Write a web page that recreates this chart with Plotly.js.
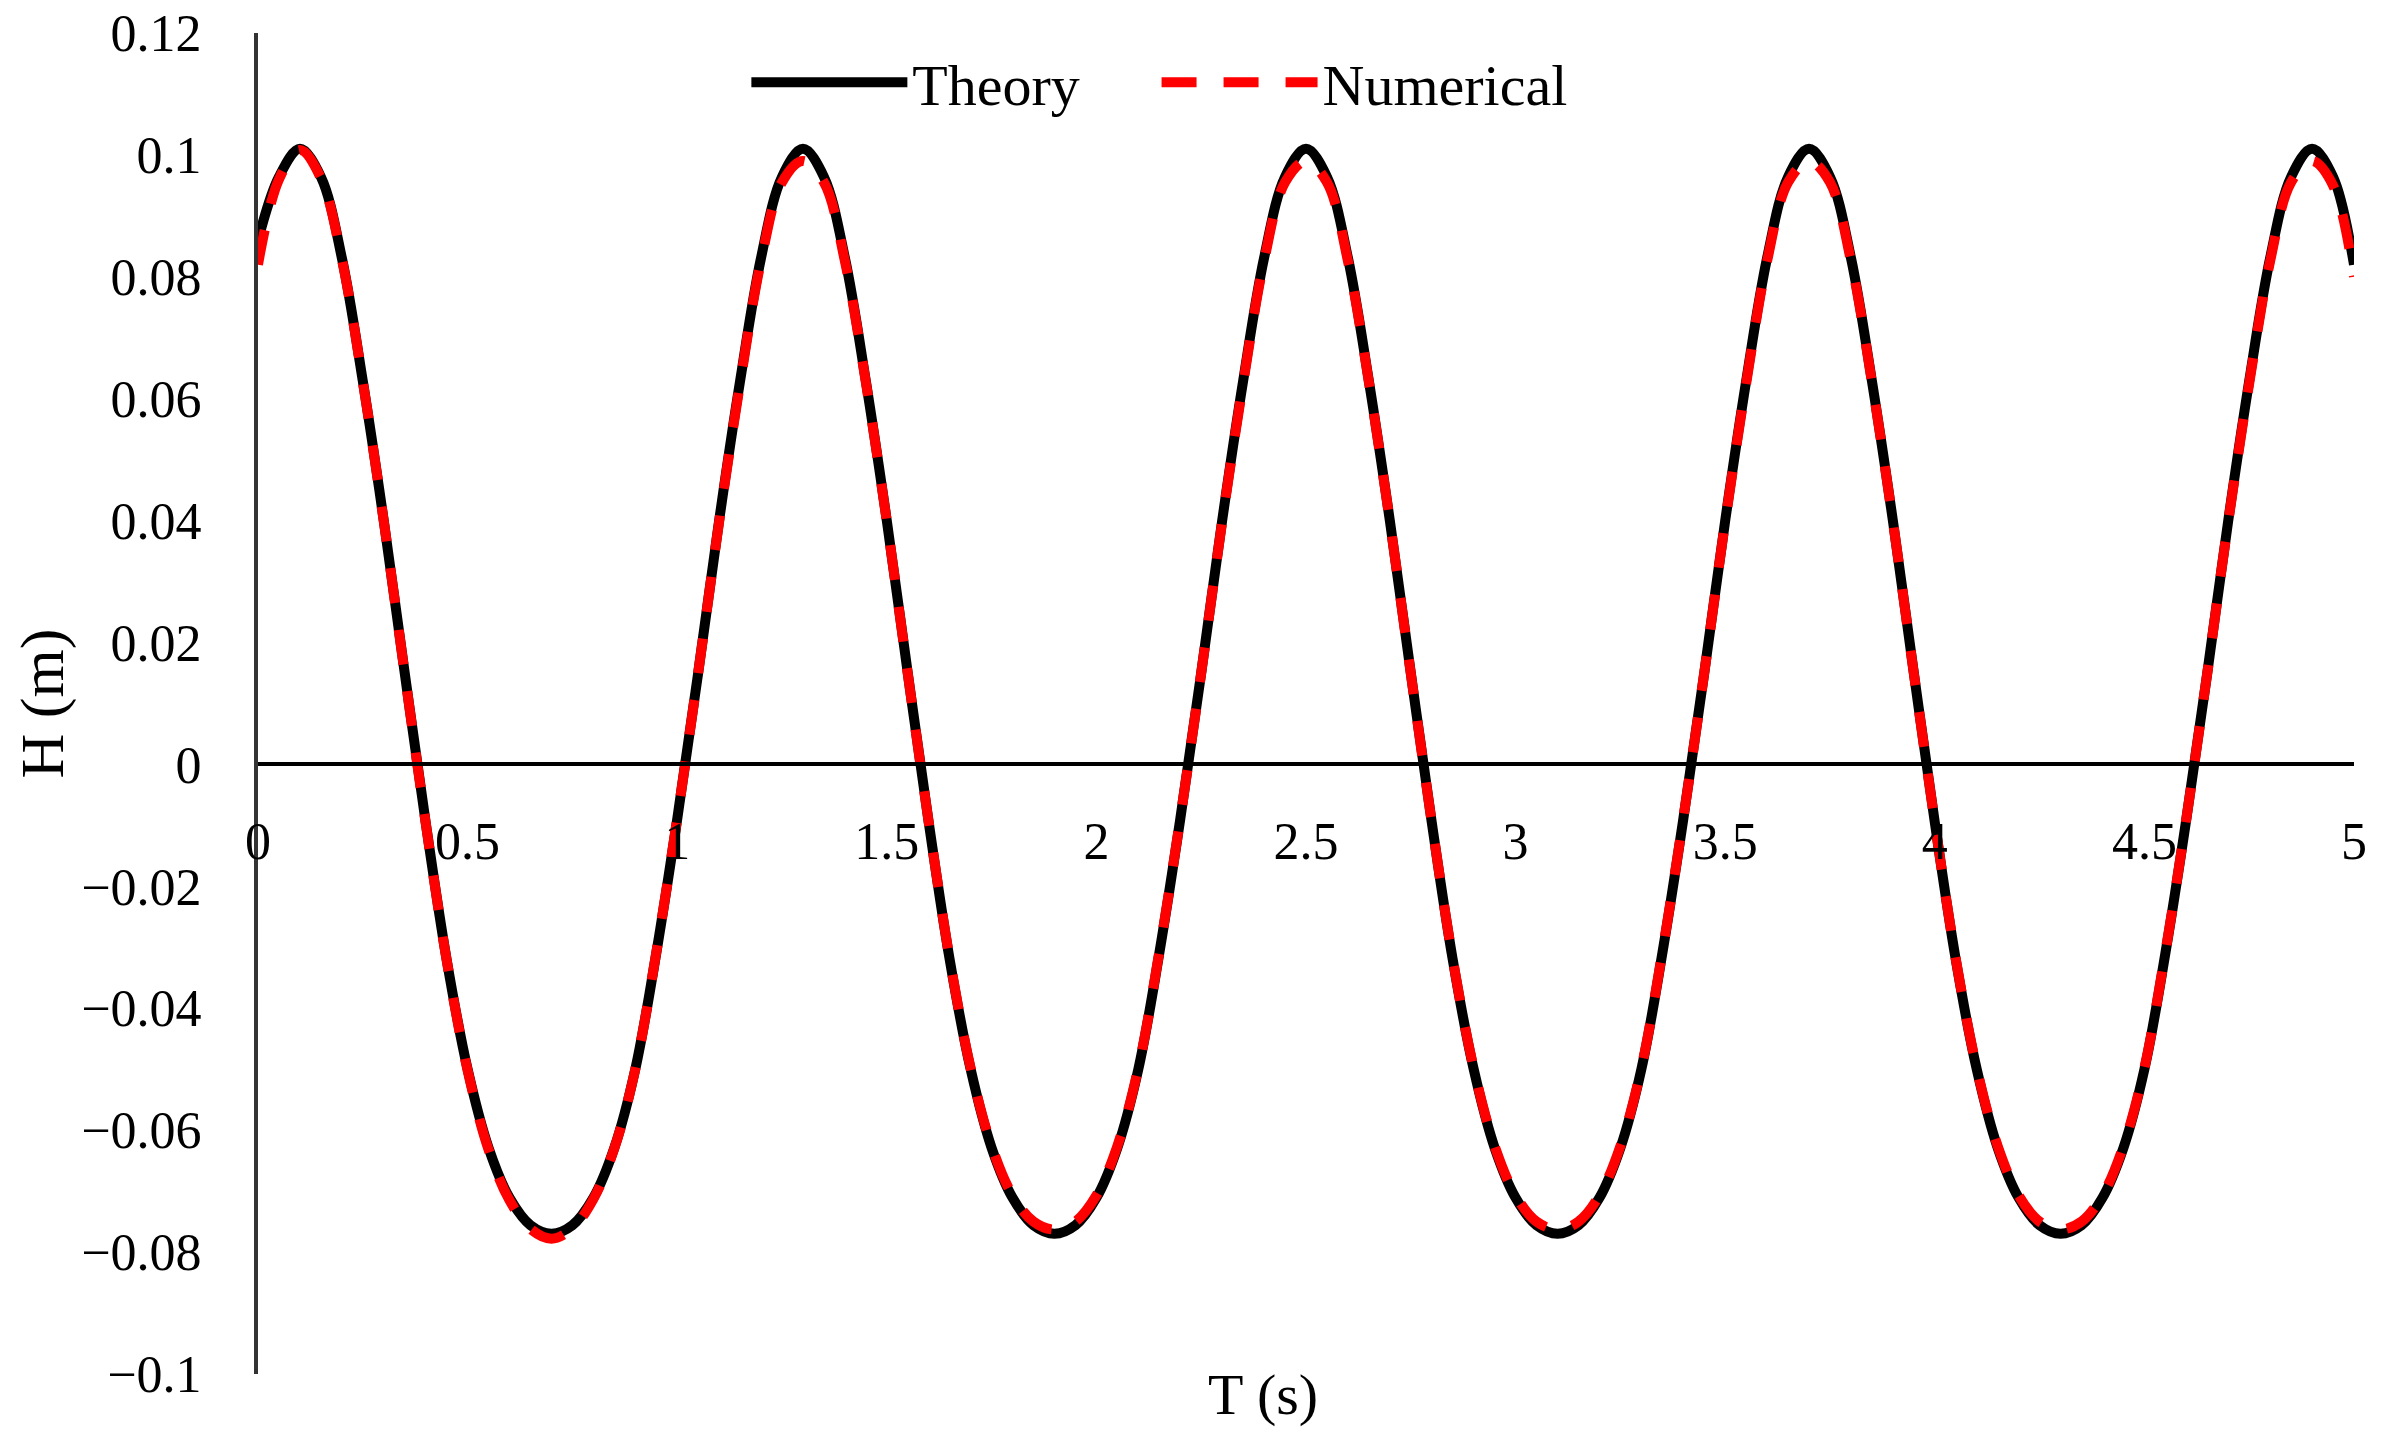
<!DOCTYPE html>
<html>
<head>
<meta charset="utf-8">
<script src="https://cdn.plot.ly/plotly-3.0.1.min.js"></script>
<style>html,body{margin:0;padding:0;background:#fff;}#chart{width:2381px;height:1443px;}</style>
</head>
<body>
<div id="chart"></div>
<script>
// Time (s)
const timeS = [
  0.00, 0.05, 0.10, 0.15, 0.20, 0.25, 0.30, 0.35, 0.40, 0.45,
  0.50, 0.55, 0.60, 0.65, 0.70, 0.75, 0.80, 0.85, 0.90, 0.95,
  1.00, 1.05, 1.10, 1.15, 1.20, 1.25, 1.30, 1.35, 1.40, 1.45,
  1.50, 1.55, 1.60, 1.65, 1.70, 1.75, 1.80, 1.85, 1.90, 1.95,
  2.00, 2.05, 2.10, 2.15, 2.20, 2.25, 2.30, 2.35, 2.40, 2.45,
  2.50, 2.55, 2.60, 2.65, 2.70, 2.75, 2.80, 2.85, 2.90, 2.95,
  3.00, 3.05, 3.10, 3.15, 3.20, 3.25, 3.30, 3.35, 3.40, 3.45,
  3.50, 3.55, 3.60, 3.65, 3.70, 3.75, 3.80, 3.85, 3.90, 3.95,
  4.00, 4.05, 4.10, 4.15, 4.20, 4.25, 4.30, 4.35, 4.40, 4.45,
  4.50, 4.55, 4.60, 4.65, 4.70, 4.75, 4.80, 4.85, 4.90, 4.95,
  5.00
];

// Theory H (m)
const theoryH = [
  0.0860, 0.0964,
  0.1010, 0.0964, 0.0831, 0.0629, 0.0400, 0.0150, -0.0095, -0.0320, -0.0500, -0.0629, -0.0711, -0.0756,
  -0.0770, -0.0756, -0.0711, -0.0629, -0.0500, -0.0310, -0.0090, 0.0150, 0.0400, 0.0629, 0.0831, 0.0964,
  0.1010, 0.0964, 0.0831, 0.0629, 0.0400, 0.0150, -0.0095, -0.0320, -0.0500, -0.0629, -0.0711, -0.0756,
  -0.0770, -0.0756, -0.0711, -0.0629, -0.0500, -0.0310, -0.0090, 0.0150, 0.0400, 0.0629, 0.0831, 0.0964,
  0.1010, 0.0964, 0.0831, 0.0629, 0.0400, 0.0150, -0.0095, -0.0320, -0.0500, -0.0629, -0.0711, -0.0756,
  -0.0770, -0.0756, -0.0711, -0.0629, -0.0500, -0.0310, -0.0090, 0.0150, 0.0400, 0.0629, 0.0831, 0.0964,
  0.1010, 0.0964, 0.0831, 0.0629, 0.0400, 0.0150, -0.0095, -0.0320, -0.0500, -0.0629, -0.0711, -0.0756,
  -0.0770, -0.0756, -0.0711, -0.0629, -0.0500, -0.0310, -0.0090, 0.0150, 0.0400, 0.0629, 0.0831, 0.0964,
  0.1010, 0.0964, 0.0820
];

// Numerical H (m)
const numericalH = [
  0.0820, 0.0960,
  0.1008, 0.0962, 0.0829, 0.0628, 0.0399, 0.0149, -0.0096, -0.0321, -0.0502, -0.0632, -0.0715, -0.0762,
  -0.0778, -0.0761, -0.0713, -0.0630, -0.0500, -0.0309, -0.0089, 0.0150, 0.0398, 0.0625, 0.0826, 0.0955,
  0.0990, 0.0955, 0.0826, 0.0627, 0.0399, 0.0149, -0.0095, -0.0319, -0.0498, -0.0626, -0.0707, -0.0750,
  -0.0763, -0.0750, -0.0707, -0.0626, -0.0498, -0.0308, -0.0089, 0.0150, 0.0398, 0.0625, 0.0826, 0.0955,
  0.0990, 0.0955, 0.0826, 0.0627, 0.0399, 0.0149, -0.0095, -0.0319, -0.0498, -0.0626, -0.0707, -0.0750,
  -0.0763, -0.0750, -0.0707, -0.0626, -0.0498, -0.0308, -0.0089, 0.0150, 0.0398, 0.0625, 0.0826, 0.0955,
  0.0990, 0.0955, 0.0826, 0.0627, 0.0399, 0.0149, -0.0095, -0.0319, -0.0498, -0.0626, -0.0707, -0.0750,
  -0.0763, -0.0750, -0.0707, -0.0626, -0.0498, -0.0308, -0.0089, 0.0150, 0.0398, 0.0625, 0.0826, 0.0955,
  0.0990, 0.0950, 0.0800
];

const seriesNames = ['Theory', 'Numerical'];
const xTitle = 'T (s)';
const yTitle = 'H (m)';
const xRange = [0, 5];
const yRange = [-0.1, 0.12];

const FONT = '"Liberation Serif", "Times New Roman", serif';

const traces = [
  {
    x: timeS, y: theoryH, name: seriesNames[0], type: 'scatter', mode: 'lines', legend: 'legend',
    line: {color: '#000000', width: 10, shape: 'spline', smoothing: 1}
  },
  {
    x: timeS, y: numericalH, name: seriesNames[1], type: 'scatter', mode: 'lines', legend: 'legend2',
    line: {color: '#ff0000', width: 10, shape: 'spline', smoothing: 1, dash: '35px,27px'}
  }
];

const legendCommon = {
  orientation: 'h', y: 0.963, xanchor: 'left', yanchor: 'middle',
  font: {family: FONT, size: 58, color: '#000000'},
  itemwidth: 156, bgcolor: 'rgba(0,0,0,0)'
};

const layout = {
  width: 2381, height: 1443,
  margin: {l: 258, r: 27, t: 33, b: 69},
  paper_bgcolor: '#ffffff', plot_bgcolor: '#ffffff',
  font: {family: FONT, size: 54, color: '#000000'},
  showlegend: true,
  legend: Object.assign({}, legendCommon, {x: 0.233}),
  legend2: Object.assign({}, legendCommon, {x: 0.4287}),
  xaxis: {
    range: xRange, dtick: 0.5, tick0: 0,
    showgrid: false, zeroline: false,
    showline: true, linecolor: '#000000', linewidth: 4,
    anchor: 'free', position: (0 - yRange[0]) / (yRange[1] - yRange[0]),
    ticks: '', ticklabelstandoff: 30,
    tickfont: {family: FONT, size: 52, color: '#000000'}
  },
  yaxis: {
    range: yRange, dtick: 0.02, tick0: 0,
    showgrid: false, zeroline: false,
    showline: true, linecolor: '#333333', linewidth: 4,
    ticks: '', ticklabelstandoff: 42,
    tickfont: {family: FONT, size: 52, color: '#000000'}
  },
  annotations: [
    {text: xTitle, xref: 'paper', yref: 'paper', x: 0.4795, y: -0.015, xanchor: 'center', yanchor: 'middle',
     showarrow: false, font: {family: FONT, size: 58, color: '#000000'}},
    {text: yTitle, xref: 'paper', yref: 'paper', x: -0.1026, y: 0.5, xanchor: 'center', yanchor: 'middle',
     textangle: -90, showarrow: false, font: {family: FONT, size: 62, color: '#000000'}}
  ]
};

Plotly.newPlot('chart', traces, layout, {staticPlot: true, displayModeBar: false});
</script>
</body>
</html>
